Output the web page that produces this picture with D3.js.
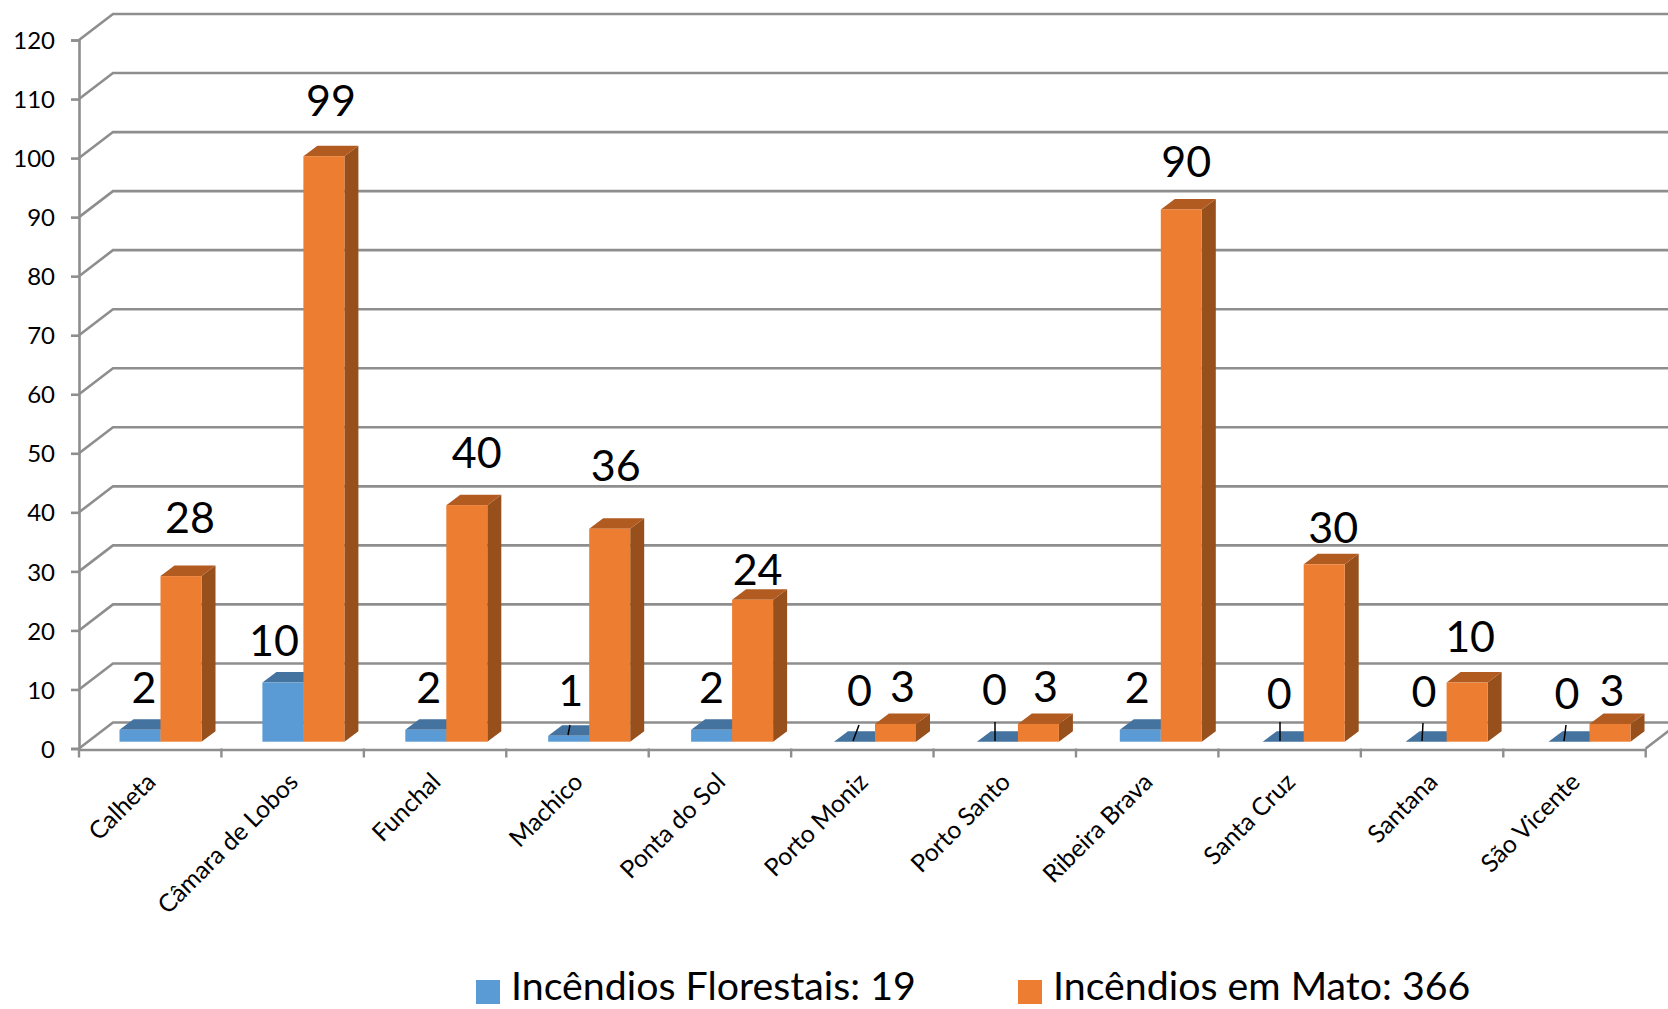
<!DOCTYPE html>
<html><head><meta charset="utf-8">
<script src="https://cdn.jsdelivr.net/npm/d3@7"></script>
<style>html,body{margin:0;padding:0;background:#fff}svg{display:block}text{font-family:Lato,"Open Sans",sans-serif;fill:#000}</style>
</head><body><div id="c"></div>
<script>
const categories=["Calheta","Câmara de Lobos","Funchal","Machico","Ponta do Sol","Porto Moniz","Porto Santo","Ribeira Brava","Santa Cruz","Santana","São Vicente"];
const florestais=[2,10,2,1,2,0,0,2,0,0,0];
const mato=[28,99,40,36,24,3,3,90,30,10,3];
const legendLabels=["Incêndios Florestais: 19","Incêndios em Mato: 366"];
const yTicks=d3.range(0,121,10);

// layout (label nudges in px relative to the bar top centre)
const W=1668,H=1009,dx=34,dy=-26;
const nudgeBlue=[[4,-36],[-9,-35],[3,-36],[2,-39],[0,-36],[5,-45],[-3,-46],[-3,-36],[-4,-42],[-2,-44],[-2,-42]];
const nudgeOrange=[[9,-52],[7,-49],[10,-46],[6,-57],[5,-24],[7,-31],[7,-31],[5,-41],[9,-30],[3,-39],[2,-27]];
const leaders=[null,null,null,[570,725,568,735],null,[859,725,853,741],[995,722,995,741],null,[1280,722,1280,741],[1423,723,1422,741],[1566,725,1564,741]];
const grid="#8e8e8e";

const svg=d3.select("#c").append("svg").attr("width",W).attr("height",H);
const x=d3.scaleBand().domain(categories).range([79,1645.7]);
const xBar=d3.scaleBand().domain(categories).range([79,79+11*142.9]);
const y=d3.scaleLinear().domain([0,120]).range([748.5,40]);
const yBar=d3.scaleLinear().domain([0,120]).range([741.7,32]);
const x1=d3.scaleBand().domain(["f","m"]).range([40.5,122.5]);
const bd=14, bdy=-10.5;

// walls
const g=svg.append("g").attr("fill","none").attr("stroke",grid).attr("stroke-width",2.6);
yTicks.forEach(t=>{
  g.append("path").attr("d",`M79,${y(t)}L${79+dx},${y(t)+dy}L${W+10},${y(t)+dy}`);
});
g.append("path").attr("d",`M1645.7,${y(0)}L${1645.7+dx},${y(0)+dy}`);

// y axis
const ya=svg.append("g").attr("transform","translate(79,0)").call(d3.axisLeft(y).tickValues(yTicks).tickSize(8).tickPadding(16).tickFormat(d3.format("d")));
ya.selectAll("path,line").attr("stroke",grid).attr("stroke-width",2.6);
ya.selectAll("text").attr("font-size",24).attr("dy","0.36em").attr("fill","#000");

// x axis
const xa=svg.append("g").attr("transform",`translate(0,${y(0)+1})`).call(d3.axisBottom(x).tickSize(0).tickFormat(d=>d));
xa.select("path").attr("stroke",grid).attr("stroke-width",2.6);
xa.selectAll(".tick line").remove();
xa.selectAll("text").attr("font-size",24.7).attr("text-anchor","end").attr("dy",0).attr("y",0)
  .attr("transform","translate(7,34) rotate(-45)").attr("fill","#000");
const edges=categories.map(c=>x(c)).concat([x.range()[1]]);
svg.append("g").selectAll("line").data(edges).join("line")
  .attr("x1",d=>d).attr("x2",d=>d).attr("y1",y(0)).attr("y2",y(0)+9).attr("stroke",grid).attr("stroke-width",2.4);

// bars
function bars(vals,key,cf,ct,cs){
  const gb=svg.append("g");
  categories.forEach((c,i)=>{
    const v=vals[i],x0=xBar(c)+x1(key),w=x1.bandwidth(),yb=yBar(0),yt=yBar(v);
    gb.append("path").attr("fill",cs).attr("d",`M${x0+w},${yt}L${x0+w+bd},${yt+bdy}L${x0+w+bd},${yb+bdy}L${x0+w},${yb}Z`);
    gb.append("path").attr("fill",ct).attr("d",`M${x0},${yt}L${x0+bd},${yt+bdy}L${x0+w+bd},${yt+bdy}L${x0+w},${yt}Z`);
    if(v>0) gb.append("rect").attr("x",x0).attr("y",yt).attr("width",w).attr("height",yb-yt).attr("fill",cf);
  });
}
bars(florestais,"f","#5B9BD5","#44739F","#44739F");
bars(mato,"m","#ED7D31","#B15B21","#974F1C");

// leaders
svg.append("g").selectAll("line").data(leaders.filter(Boolean)).join("line")
  .attr("x1",d=>d[0]).attr("y1",d=>d[1]).attr("x2",d=>d[2]).attr("y2",d=>d[3]).attr("stroke","#000").attr("stroke-width",1.5);

// data labels
function labels(vals,key,nudge){
  svg.append("g").selectAll("text").data(vals).join("text")
    .attr("x",(d,i)=>xBar(categories[i])+x1(key)+x1.bandwidth()/2+nudge[i][0])
    .attr("y",(d,i)=>yBar(d)+nudge[i][1]-6.6)
    .attr("dy","0.36em").attr("text-anchor","middle").attr("font-size",43).text(d=>d);
}
labels(florestais,"f",nudgeBlue);
labels(mato,"m",nudgeOrange);

// legend
const lx=[476,1018],tx=[511,1053],cols=["#5B9BD5","#ED7D31"];
legendLabels.forEach((t,i)=>{
  svg.append("rect").attr("x",lx[i]).attr("y",980).attr("width",24).attr("height",24).attr("fill",cols[i]);
  svg.append("text").attr("x",tx[i]).attr("y",1000).attr("font-size",39.3).text(t);
});
</script></body></html>
